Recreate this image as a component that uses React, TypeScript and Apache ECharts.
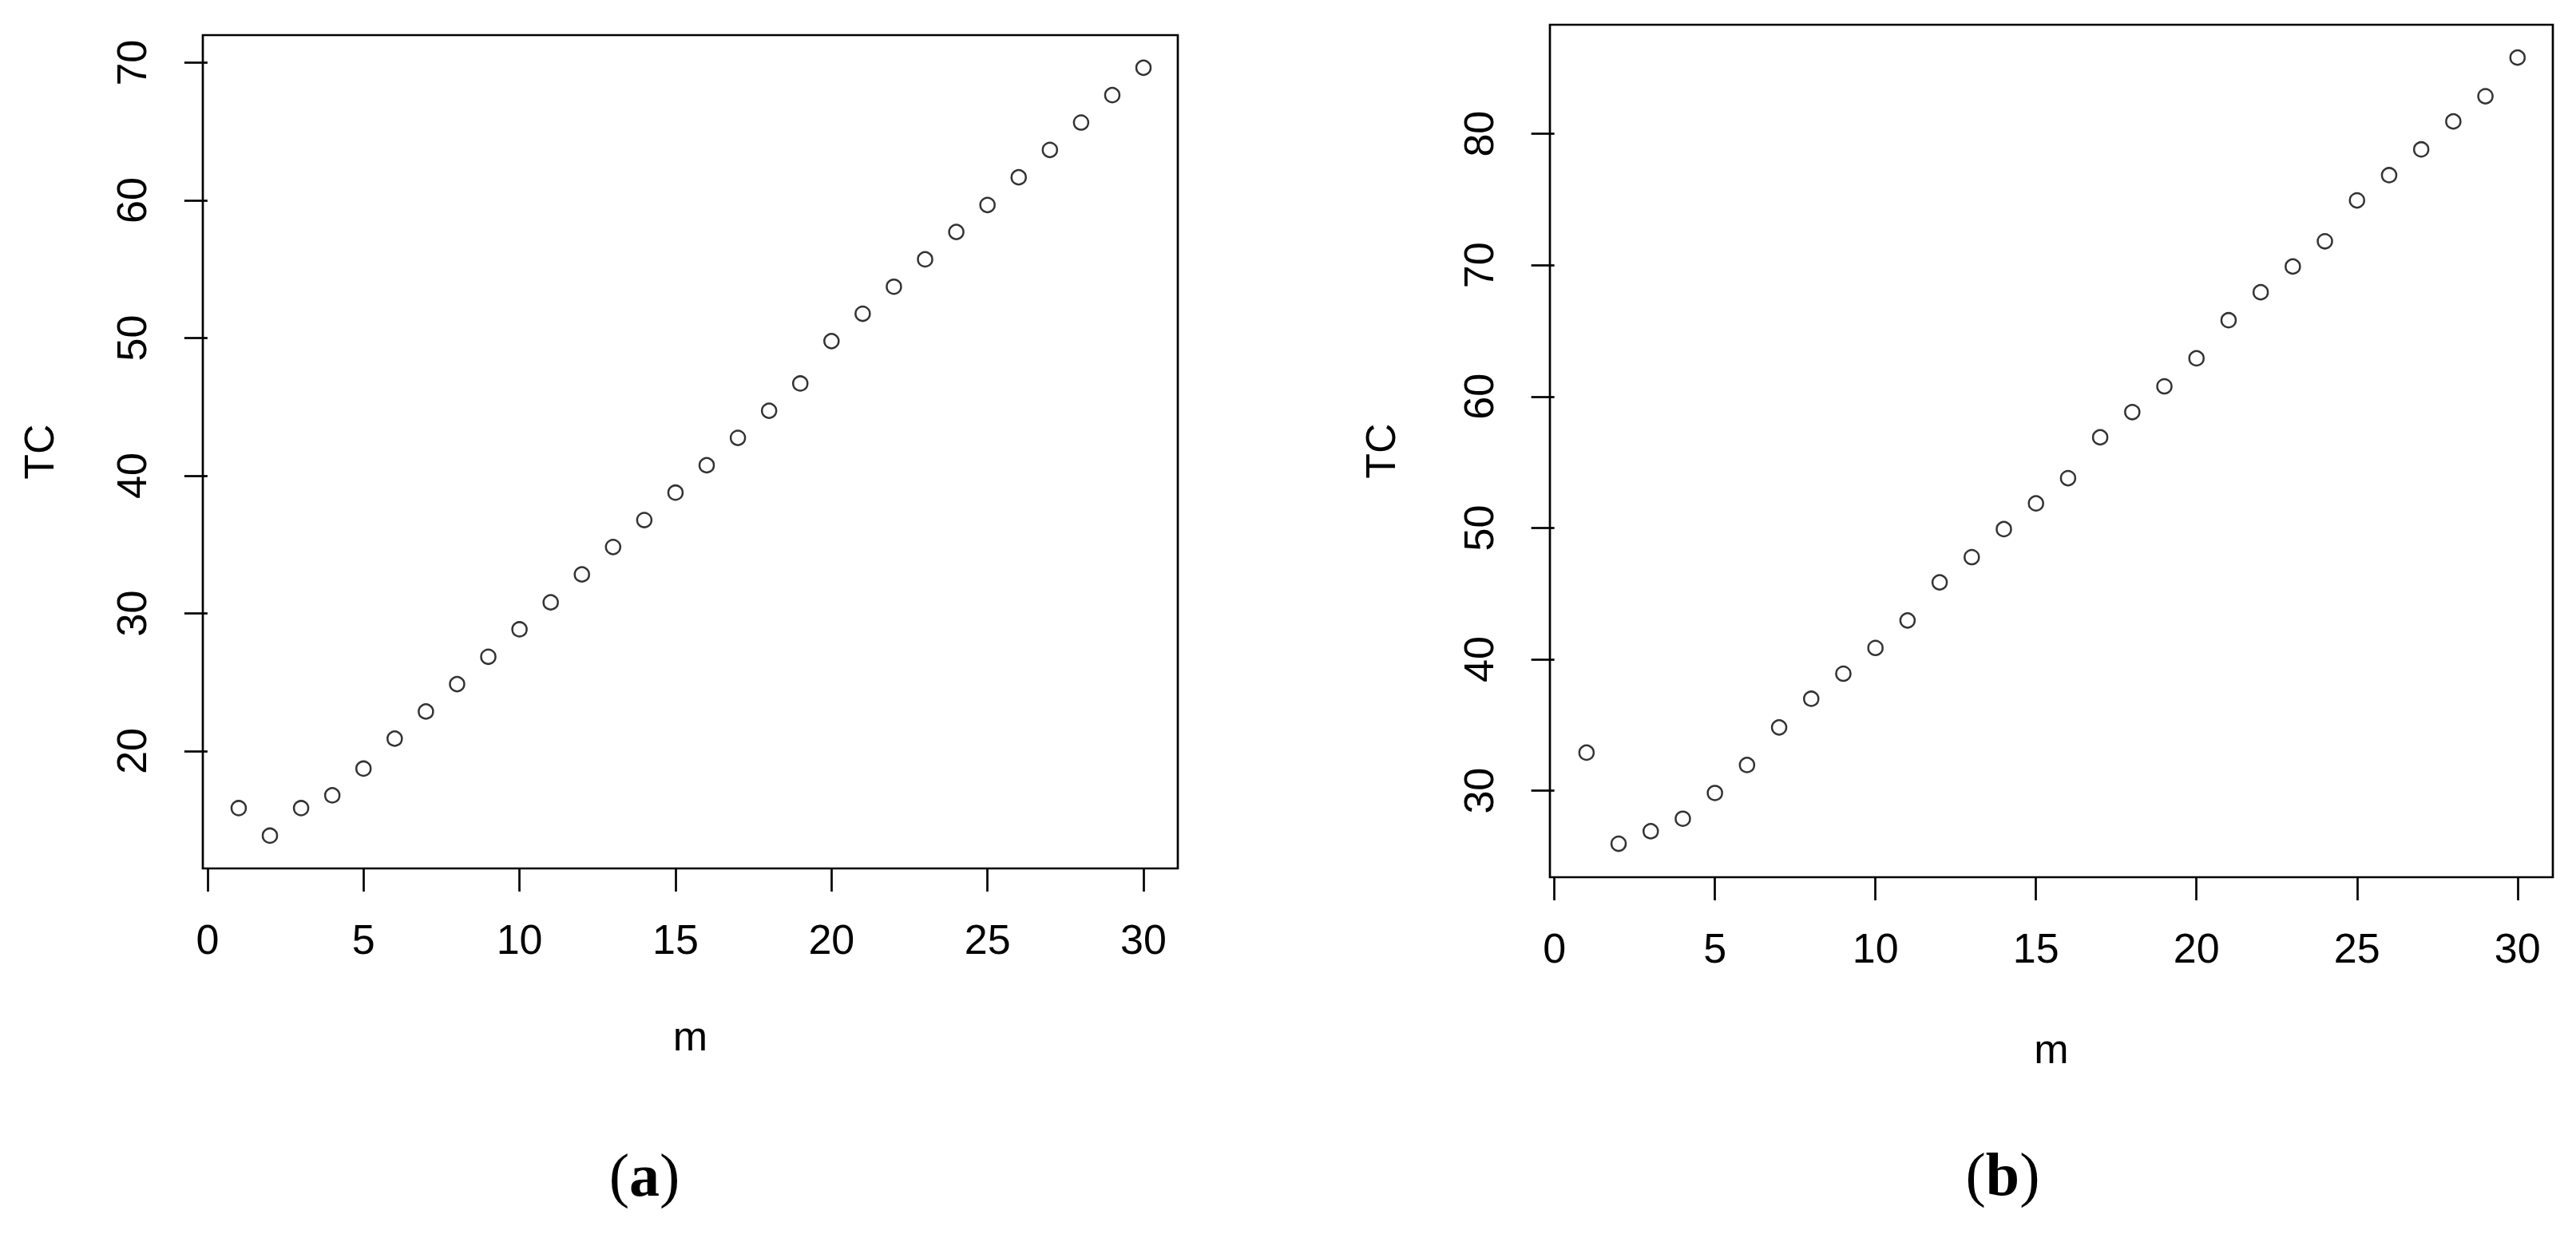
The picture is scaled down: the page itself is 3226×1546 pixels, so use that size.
import React, { useEffect, useRef } from "react";
import * as echarts from "echarts";

const M = [1, 2, 3, 4, 5, 6, 7, 8, 9, 10, 11, 12, 13, 14, 15, 16, 17, 18, 19, 20, 21, 22, 23, 24, 25, 26, 27, 28, 29, 30];
const TC_A = [15.85, 13.85, 15.85, 16.78, 18.72, 20.9, 22.87, 24.86, 26.85, 28.84, 30.8, 32.83, 34.82, 36.78, 38.77, 40.76, 42.75, 44.72, 46.7, 49.78, 51.77, 53.73, 55.72, 57.71, 59.67, 61.68, 63.67, 65.66, 67.65, 69.64];
const TC_B = [32.9, 25.97, 26.92, 27.87, 29.83, 31.96, 34.82, 37.0, 38.91, 40.87, 42.96, 45.86, 47.78, 49.91, 51.87, 53.79, 56.9, 58.82, 60.78, 62.91, 65.81, 67.94, 69.9, 71.82, 74.93, 76.85, 78.81, 80.94, 82.86, 85.8];
const X_TICKS = [0, 5, 10, 15, 20, 25, 30];
const Y_TICKS_A = [20, 30, 40, 50, 60, 70];
const Y_TICKS_B = [30, 40, 50, 60, 70, 80];
const X_NAME = "m";
const Y_NAME = "TC";
const PANEL_TAGS = ["a", "b"];

const FONT = "Liberation Sans, Arial, sans-serif";
const LW = 2.7;

function xAxisDef(grid: number, min: number, max: number, gap: number) {
  return {
    type: "value",
    gridIndex: grid,
    min,
    max,
    name: X_NAME,
    nameLocation: "middle",
    nameGap: gap,
    nameTextStyle: { fontSize: 52, fontFamily: FONT, color: "#000" },
    axisLine: { show: false },
    splitLine: { show: false },
    axisTick: {
      show: true,
      inside: false,
      length: 29,
      customValues: X_TICKS,
      lineStyle: { color: "#000", width: LW },
    },
    axisLabel: {
      show: true,
      customValues: X_TICKS,
      margin: 63,
      fontSize: 52,
      fontFamily: FONT,
      color: "#000",
    },
  };
}

function yAxisDef(grid: number, min: number, max: number, ticks: number[], gap: number) {
  return {
    type: "value",
    gridIndex: grid,
    min,
    max,
    name: Y_NAME,
    nameLocation: "middle",
    nameRotate: 90,
    nameGap: gap,
    nameTextStyle: { fontSize: 52, fontFamily: FONT, color: "#000" },
    axisLine: { show: false },
    splitLine: { show: false },
    axisTick: {
      show: true,
      inside: false,
      length: 29,
      customValues: ticks,
      lineStyle: { color: "#000", width: LW },
    },
    axisLabel: {
      show: true,
      customValues: ticks,
      rotate: 90,
      margin: 63,
      fontSize: 52,
      fontFamily: FONT,
      color: "#000",
    },
  };
}

function scatter(idx: number, ys: number[]) {
  return {
    type: "scatter",
    xAxisIndex: idx,
    yAxisIndex: idx,
    symbol: "circle",
    symbolSize: 18,
    itemStyle: { color: "rgba(0,0,0,0)", borderColor: "#000", borderWidth: 2.5 },
    data: M.map((m, i) => [m, ys[i]]),
  };
}

function caption(tag: string, x: number, y: number) {
  return {
    type: "text",
    x,
    y,
    style: {
      text: "{p|(}{b|" + tag + "}{p|)}",
      align: "center",
      verticalAlign: "middle",
      rich: {
        p: { fontSize: 76, fontFamily: "Liberation Serif, serif", fill: "#000" },
        b: { fontSize: 76, fontFamily: "Liberation Serif, serif", fontWeight: "bold", fill: "#000" },
      },
    },
  };
}

export default function App() {
  const ref = useRef<HTMLDivElement>(null);
  useEffect(() => {
    if (!ref.current) return;
    const chart = echarts.init(ref.current, undefined, { renderer: "svg" });
    chart.setOption({
      animation: false,
      backgroundColor: "#fff",
      grid: [
        { left: 254, top: 44, width: 1221, height: 1044, show: true, borderColor: "#000", borderWidth: LW, backgroundColor: "transparent" },
        { left: 1941, top: 31, width: 1256, height: 1068, show: true, borderColor: "#000", borderWidth: LW, backgroundColor: "transparent" },
      ],
      xAxis: [xAxisDef(0, -0.15, 31.1, 184), xAxisDef(1, -0.14, 31.1, 189)],
      yAxis: [yAxisDef(0, 11.47, 72.01, Y_TICKS_A, 179), yAxisDef(1, 23.42, 88.3, Y_TICKS_B, 186)],
      series: [scatter(0, TC_A), scatter(1, TC_B)],
      graphic: [caption(PANEL_TAGS[0], 807, 1472), caption(PANEL_TAGS[1], 2508, 1471)],
    });
    return () => chart.dispose();
  }, []);
  return (
    <div
      ref={ref}
      style={{ position: "absolute", left: 0, top: 0, width: 3226, height: 1546, background: "#fff" }}
    />
  );
}
